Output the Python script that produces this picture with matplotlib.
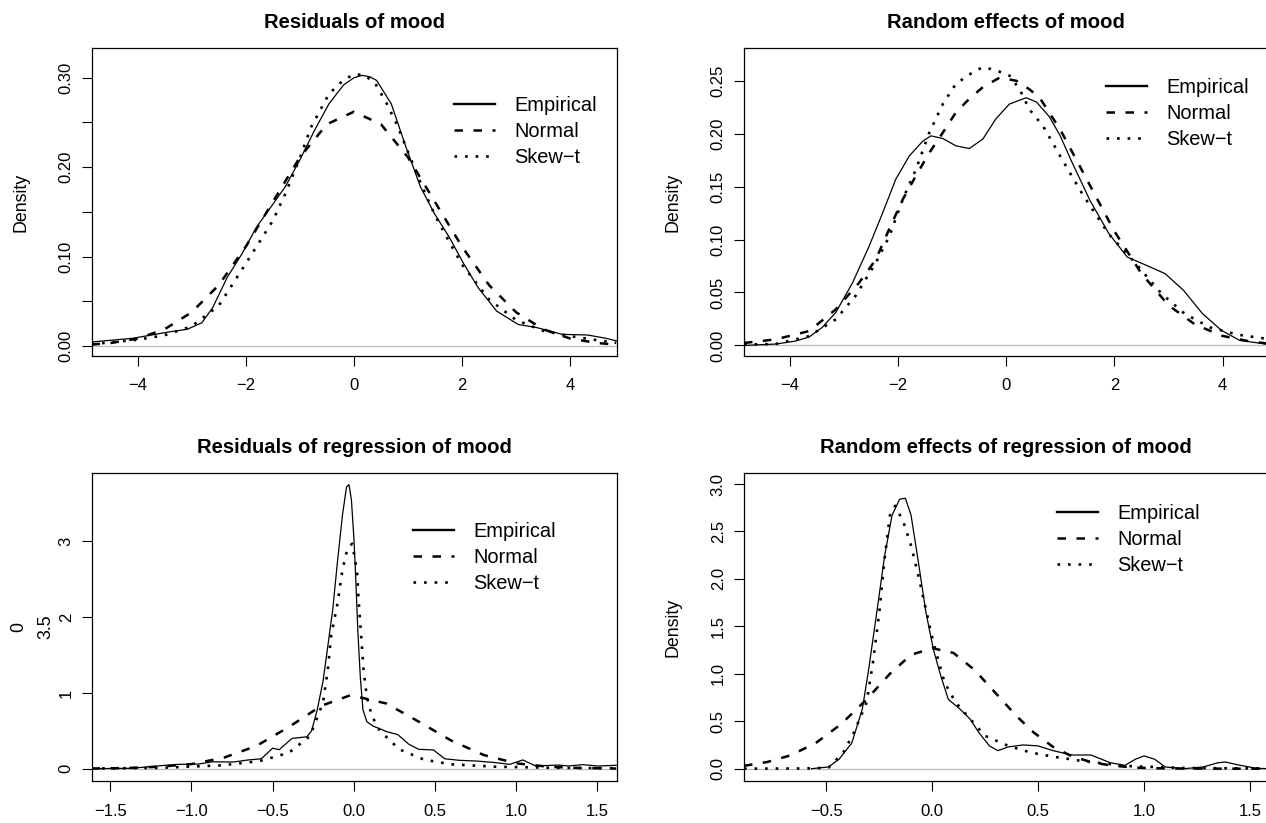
import matplotlib.pyplot as plt
from matplotlib.lines import Line2D

plt.rcParams['font.family'] = ['Liberation Sans', 'DejaVu Sans']

# ---------------- values ----------------

# Residuals of mood
emp_tl_x = [-4.84, -4.09, -3.42, -3.08, -2.81, -2.61, -2.34, -2.07, -1.80, -1.54, -1.27, -1.00, -0.73,
            -0.46, -0.19, 0.0, 0.15, 0.30, 0.42, 0.69, 0.96, 1.23, 1.49, 1.76, 2.03, 2.30, 2.64, 3.04,
            3.38, 3.85, 4.32, 4.66, 4.86]
emp_tl_y = [0.0045, 0.0086, 0.0157, 0.0187, 0.026, 0.043, 0.077, 0.103, 0.133, 0.155, 0.178, 0.208, 0.241,
            0.271, 0.292, 0.300, 0.3027, 0.301, 0.297, 0.271, 0.223, 0.178, 0.148, 0.122, 0.092, 0.065,
            0.039, 0.024, 0.0206, 0.013, 0.0123, 0.0086, 0.0056]
nor_tl_x = [-4.85, -4.5, -4.0, -3.5, -3.0, -2.5, -2.0, -1.5, -1.0, -0.5, 0.0, 0.5, 1.0, 1.5, 2.0, 2.5,
            3.0, 3.5, 4.0, 4.5, 4.85]
nor_tl_y = [0.0016, 0.0033, 0.0083, 0.0187, 0.0377, 0.068, 0.111, 0.161, 0.211, 0.248, 0.262, 0.248,
            0.211, 0.161, 0.111, 0.068, 0.0377, 0.0187, 0.0083, 0.0033, 0.0016]
skt_tl_x = [-4.85, -4.0, -3.5, -3.0, -2.5, -2.0, -1.5, -1.27, -1.0, -0.79, -0.46, -0.2, 0.0, 0.2, 0.4,
            0.6, 0.8, 1.0, 1.25, 1.5, 1.75, 2.0, 2.5, 3.0, 3.5, 4.0, 4.5, 4.85]
skt_tl_y = [0.002, 0.007, 0.012, 0.022, 0.045, 0.092, 0.140, 0.170, 0.210, 0.245, 0.282, 0.297, 0.304,
            0.303, 0.293, 0.272, 0.247, 0.217, 0.180, 0.146, 0.118, 0.091, 0.052, 0.029, 0.017, 0.011,
            0.0065, 0.0035]

# Random effects of mood
emp_tr_x = [-4.845, -4.26, -3.9, -3.64, -3.4, -3.15, -2.84, -2.53, -2.28, -2.04, -1.79, -1.54, -1.39,
            -1.17, -0.93, -0.68, -0.43, -0.19, 0.06, 0.37, 0.56, 0.8, 1.0, 1.20, 1.55, 1.90, 2.24, 2.59,
            2.94, 3.28, 3.63, 3.98, 4.32, 4.85]
emp_tr_y = [0.0, 0.0013, 0.004, 0.008, 0.017, 0.031, 0.059, 0.094, 0.1255, 0.157, 0.179, 0.193, 0.198,
            0.1955, 0.1886, 0.186, 0.195, 0.214, 0.228, 0.234, 0.230, 0.216, 0.198, 0.175, 0.137, 0.1056,
            0.0835, 0.0757, 0.0678, 0.052, 0.030, 0.0142, 0.0047, 0.001]
nor_tr_x = [-4.845, -4.26, -3.64, -3.15, -2.72, -2.41, -2.16, -1.91, -1.67, -1.42, -1.17, -0.93, -0.68,
            -0.43, -0.12, 0.19, 0.43, 0.62, 1.0, 1.5, 2.0, 2.5, 3.0, 3.5, 4.0, 4.5, 4.85]
nor_tr_y = [0.0023, 0.0057, 0.0136, 0.034, 0.059, 0.081, 0.11, 0.138, 0.160, 0.182, 0.201, 0.22, 0.233,
            0.244, 0.253, 0.25, 0.242, 0.234, 0.204, 0.156, 0.108, 0.068, 0.038, 0.0195, 0.009, 0.0038,
            0.0017]
skt_tr_x = [-4.845, -4.26, -3.64, -3.15, -2.78, -2.41, -2.16, -1.91, -1.67, -1.42, -1.17, -0.93, -0.68,
            -0.43, -0.19, 0.06, 0.25, 0.43, 0.68, 1.1, 1.41, 1.9, 2.35, 2.87, 3.3, 3.77, 4.3, 4.85]
skt_tr_y = [0.0008, 0.0013, 0.0088, 0.0246, 0.047, 0.078, 0.103, 0.138, 0.166, 0.201, 0.228, 0.247, 0.256,
            0.263, 0.260, 0.255, 0.242, 0.223, 0.2075, 0.17, 0.143, 0.105, 0.080, 0.049, 0.03, 0.017,
            0.01, 0.006]

# Residuals of regression of mood
emp_bl_x = [-1.615, -1.37, -1.14, -1.08, -0.96, -0.87, -0.74, -0.65, -0.57, -0.50, -0.46, -0.38, -0.29,
            -0.26, -0.225, -0.19, -0.16, -0.13, -0.10, -0.07, -0.045, -0.03, -0.015, 0.0, 0.01, 0.025,
            0.04, 0.056, 0.08, 0.12, 0.157, 0.2, 0.27, 0.34, 0.40, 0.49, 0.56, 0.65, 0.76, 0.87, 0.96,
            1.04, 1.12, 1.26, 1.32, 1.41, 1.50, 1.615]
emp_bl_y = [0.0, 0.005, 0.048, 0.057, 0.06, 0.09, 0.088, 0.115, 0.13, 0.27, 0.25, 0.40, 0.42, 0.50, 0.78,
            1.15, 1.62, 2.1, 2.75, 3.35, 3.72, 3.75, 3.55, 3.05, 2.6, 1.8, 1.2, 0.78, 0.62, 0.56, 0.53,
            0.49, 0.45, 0.32, 0.255, 0.247, 0.13, 0.11, 0.10, 0.08, 0.057, 0.115, 0.035, 0.048, 0.035,
            0.053, 0.035, 0.044]
nor_bl_x = [-1.615, -1.4, -1.2, -1.0, -0.8, -0.6, -0.4, -0.2, -0.02, 0.2, 0.4, 0.6, 0.8, 1.0, 1.2, 1.4,
            1.615]
nor_bl_y = [0.002, 0.008, 0.025, 0.06, 0.145, 0.3, 0.55, 0.83, 0.97, 0.86, 0.62, 0.37, 0.18, 0.07, 0.025,
            0.008, 0.002]
skt_bl_x = [-1.615, -1.2, -0.81, -0.58, -0.40, -0.27, -0.19, -0.16, -0.14, -0.10, -0.07, -0.04, -0.01,
            0.02, 0.03, 0.045, 0.06, 0.08, 0.11, 0.16, 0.28, 0.43, 0.6, 0.87, 1.2, 1.615]
skt_bl_y = [0.002, 0.01, 0.044, 0.10, 0.21, 0.43, 0.87, 1.31, 1.75, 2.19, 2.63, 2.9, 2.97, 2.6, 2.2, 1.75,
            1.3, 0.95, 0.7, 0.5, 0.255, 0.12, 0.057, 0.026, 0.012, 0.005]

# Random effects of regression of mood
emp_br_x = [-0.57, -0.49, -0.44, -0.38, -0.33, -0.30, -0.26, -0.225, -0.19, -0.154, -0.127, -0.10, -0.065,
            -0.03, 0.005, 0.04, 0.076, 0.13, 0.18, 0.22, 0.27, 0.31, 0.36, 0.43, 0.50, 0.57, 0.66, 0.75,
            0.84, 0.91, 0.96, 1.00, 1.05, 1.10, 1.19, 1.28, 1.35, 1.385, 1.455, 1.53, 1.588]
emp_br_y = [0.0, 0.018, 0.1, 0.27, 0.63, 1.05, 1.68, 2.24, 2.67, 2.84, 2.85, 2.67, 2.17, 1.65, 1.26, 0.98,
            0.73, 0.63, 0.52, 0.38, 0.24, 0.19, 0.23, 0.25, 0.24, 0.19, 0.144, 0.144, 0.063, 0.035, 0.1,
            0.134, 0.1, 0.018, 0.0, 0.018, 0.063, 0.07, 0.035, 0.004, 0.0]
nor_br_x = [-0.889, -0.78, -0.67, -0.55, -0.43, -0.31, -0.2, -0.1, 0.0, 0.1, 0.2, 0.31, 0.4, 0.48, 0.57,
            0.66, 0.75, 0.84, 0.95, 1.05, 1.2, 1.4, 1.588]
nor_br_y = [0.03, 0.07, 0.14, 0.27, 0.47, 0.73, 1.0, 1.2, 1.27, 1.22, 1.04, 0.77, 0.55, 0.38, 0.23, 0.13,
            0.07, 0.035, 0.012, 0.004, 0.001, 0.0, 0.0]
skt_br_x = [-0.889, -0.6, -0.49, -0.42, -0.37, -0.31, -0.28, -0.25, -0.225, -0.2, -0.175, -0.136, -0.10,
            -0.065, -0.03, 0.005, 0.058, 0.11, 0.18, 0.25, 0.36, 0.465, 0.57, 0.71, 0.92, 1.19, 1.588]
skt_br_y = [0.0, 0.002, 0.01, 0.17, 0.38, 0.70, 1.12, 1.65, 2.21, 2.67, 2.77, 2.6, 2.35, 2.03, 1.68, 1.33,
            0.91, 0.70, 0.52, 0.345, 0.24, 0.17, 0.127, 0.08, 0.028, 0.007, 0.002]

titles = ['Residuals of mood', 'Random effects of mood',
          'Residuals of regression of mood', 'Random effects of regression of mood']
ylabels = ['Density', 'Density', '0\n3.5', 'Density']
legend_labels = ['Empirical', 'Normal', 'Skew\u2212t']

M = '\u2212'
xticks_tl = [-4, -2, 0, 2, 4]
xlabs_tl = [M + '4', M + '2', '0', '2', '4']
yticks_tl = [0.00, 0.05, 0.10, 0.15, 0.20, 0.25, 0.30]
ylabs_tl = ['0.00', '', '0.10', '', '0.20', '', '0.30']
xticks_tr = [-4, -2, 0, 2, 4]
xlabs_tr = [M + '4', M + '2', '0', '2', '4']
yticks_tr = [0.00, 0.05, 0.10, 0.15, 0.20, 0.25]
ylabs_tr = ['0.00', '0.05', '0.10', '0.15', '0.20', '0.25']
xticks_bl = [-1.5, -1.0, -0.5, 0.0, 0.5, 1.0, 1.5]
xlabs_bl = [M + '1.5', M + '1.0', M + '0.5', '0.0', '0.5', '1.0', '1.5']
yticks_bl = [0, 1, 2, 3]
ylabs_bl = ['0', '1', '2', '3']
xticks_br = [-0.5, 0.0, 0.5, 1.0, 1.5]
xlabs_br = [M + '0.5', '0.0', '0.5', '1.0', '1.5']
yticks_br = [0.0, 0.5, 1.0, 1.5, 2.0, 2.5, 3.0]
ylabs_br = ['0.0', '0.5', '1.0', '1.5', '2.0', '2.5', '3.0']

####################################################################################

DASH = (0, (3.4, 4.2))
DOT = (0, (1.0, 3.0))


def panel(ax, emp, nor, skt, title, ylab, xt, xlabs, yt, ylabs, xlim, ylim, leg_at, ylabpad=21):
    ax.axhline(0, color='#bebebe', lw=0.9, zorder=0)
    ax.plot(emp[0], emp[1], color='black', lw=0.9)
    ax.plot(nor[0], nor[1], color='black', lw=1.8, linestyle=DASH)
    ax.plot(skt[0], skt[1], color='black', lw=1.9, linestyle=DOT)
    ax.set_xlim(xlim)
    ax.set_ylim(ylim)
    ax.set_xticks(xt, xlabs)
    ax.set_yticks(yt, ylabs, rotation=90, va='center')
    ax.tick_params(direction='out', length=7.2, width=0.8, labelsize=12)
    ax.tick_params(axis='x', pad=9)
    ax.tick_params(axis='y', pad=6)
    for s in ax.spines.values():
        s.set_linewidth(0.9)
    ax.set_title(title, fontsize=14.6, fontweight='bold', pad=14.5)
    ax.set_ylabel(ylab, fontsize=12.8, labelpad=ylabpad)
    handles = [Line2D([], [], color='black', lw=1.7),
               Line2D([], [], color='black', lw=1.8, linestyle=DASH),
               Line2D([], [], color='black', lw=1.9, linestyle=DOT)]
    ax.legend(handles, legend_labels, loc='upper left', bbox_to_anchor=leg_at, frameon=False,
              fontsize=14.4, borderpad=0, borderaxespad=0, handlelength=2.05, handletextpad=0.95,
              labelspacing=0.35)


fig = plt.figure(figsize=(12.66, 8.23), dpi=100)
W, H = 524.5 / 1266, 308 / 823
ax_tl = fig.add_axes([92 / 1266, 1 - 356 / 823, W, H])
ax_tr = fig.add_axes([744 / 1266, 1 - 356 / 823, W, H])
ax_bl = fig.add_axes([92 / 1266, 1 - 781 / 823, W, H])
ax_br = fig.add_axes([744 / 1266, 1 - 781 / 823, W, H])

panel(ax_tl, (emp_tl_x, emp_tl_y), (nor_tl_x, nor_tl_y), (skt_tl_x, skt_tl_y), titles[0], ylabels[0],
      xticks_tl, xlabs_tl, yticks_tl, ylabs_tl, (-4.842, 4.855), (-0.0112, 0.3333), (0.69, 0.844))
panel(ax_tr, (emp_tr_x, emp_tr_y), (nor_tr_x, nor_tr_y), (skt_tr_x, skt_tr_y), titles[1], ylabels[1],
      xticks_tr, xlabs_tr, yticks_tr, ylabs_tr, (-4.845, 4.85), (-0.0100, 0.281), (0.69, 0.904))
panel(ax_bl, (emp_bl_x, emp_bl_y), (nor_bl_x, nor_bl_y), (skt_bl_x, skt_bl_y), titles[2], ylabels[2],
      xticks_bl, xlabs_bl, yticks_bl, ylabs_bl, (-1.612, 1.617), (-0.163, 3.903), (0.612, 0.84),
      ylabpad=3)
panel(ax_br, (emp_br_x, emp_br_y), (nor_br_x, nor_br_y), (skt_br_x, skt_br_y), titles[3], ylabels[3],
      xticks_br, xlabs_br, yticks_br, ylabs_br, (-0.889, 1.588), (-0.13, 3.116), (0.597, 0.899))

ax_bl.yaxis.label.set_linespacing(1.8)

fig.savefig('out.png', dpi=100)
